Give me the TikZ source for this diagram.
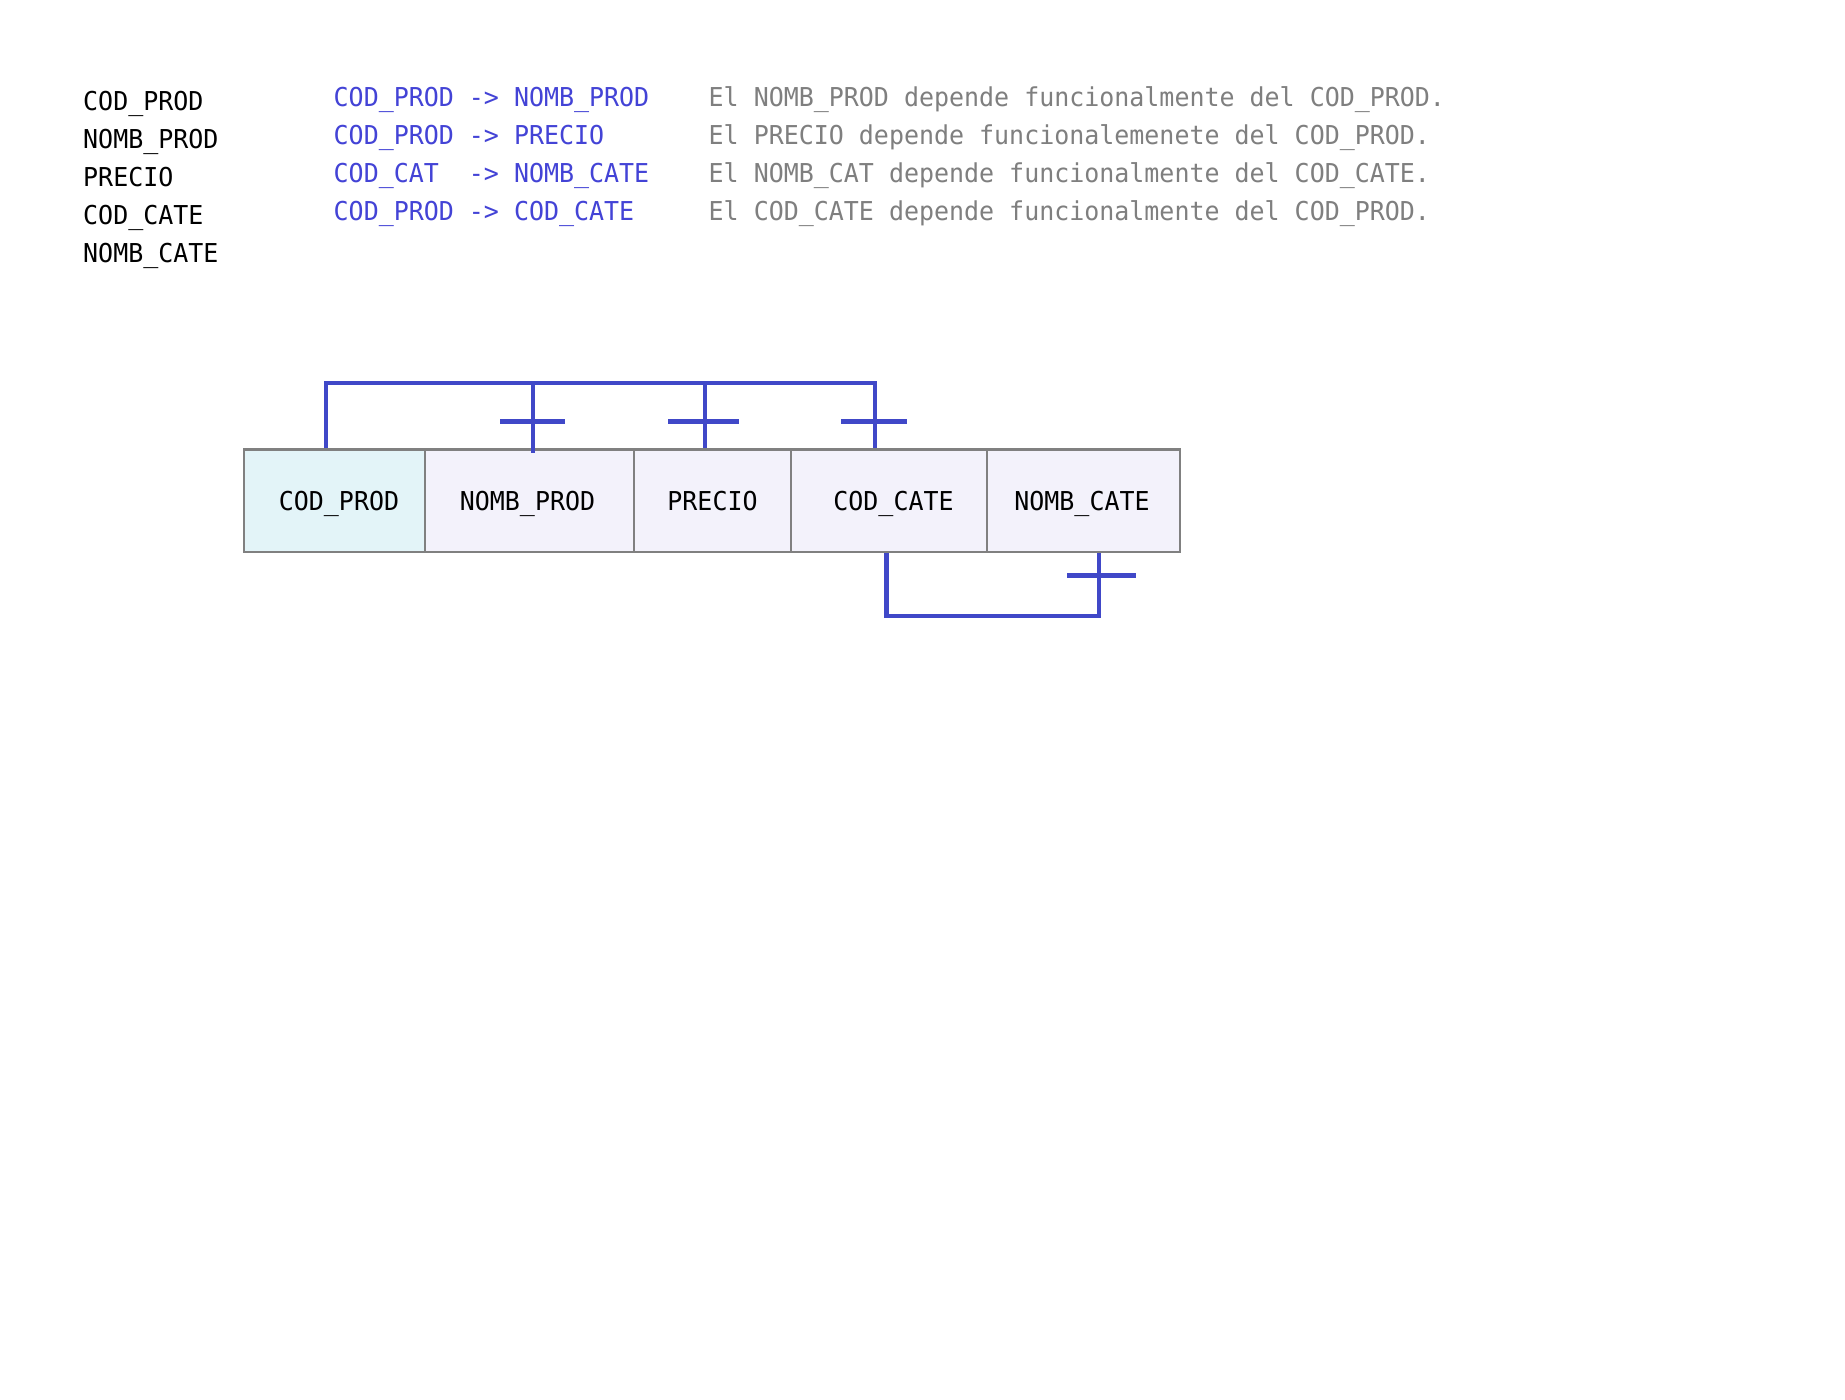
\documentclass[tikz,border=0pt]{standalone}
\usepackage{fontspec}
\newfontfamily\dmono[FakeStretch=0.96]{DejaVu Sans Mono}
\usetikzlibrary{calc}
\definecolor{fdblue}{HTML}{4048C8}
\definecolor{txtblue}{HTML}{4343D6}
\definecolor{txtgray}{HTML}{7F7F7F}
\definecolor{cellgray}{HTML}{808080}
\definecolor{keyfill}{HTML}{E3F4F8}
\definecolor{attrfill}{HTML}{F3F2FB}
\begin{document}
\begin{tikzpicture}[x=1pt,y=-1pt,
  every node/.style={font=\dmono\fontsize{26}{30}\selectfont, inner sep=0pt},
  lst/.style={anchor=base west, text=black},
  dep/.style={anchor=base west, text=txtblue},
  desc/.style={anchor=base west, text=txtgray},
  cell/.style={draw=cellgray, line width=2.5pt, minimum height=102.5pt, fill=attrfill, text=black,
               text height=19pt, text depth=0pt},
  keycell/.style={cell, fill=keyfill},
  fd/.style={draw=fdblue, line width=4.5pt}]
\fill[white] (0,0) rectangle (1845,1400);
\useasboundingbox (0,0) rectangle (1845,1400);

% attribute list
\node[lst] (l1) at (83,110.6) {COD\_PROD};
\node[lst] (l2) at (83,148.6) {NOMB\_PROD};
\node[lst] (l3) at (83,186.6) {PRECIO};
\node[lst] (l4) at (83,224.6) {COD\_CATE};
\node[lst] (l5) at (83,262.6) {NOMB\_CATE};

% dependencies
\node[dep] (d1) at (333.5,106) {COD\_PROD -> NOMB\_PROD};
\node[dep] (d2) at (333.5,144) {COD\_PROD -> PRECIO};
\node[dep] (d3) at (333.5,182) {COD\_CAT\ \ -> NOMB\_CATE};
\node[dep] (d4) at (333.5,220) {COD\_PROD -> COD\_CATE};

% descriptions
\node[desc] (e1) at (708.5,106) {El NOMB\_PROD depende funcionalmente del COD\_PROD.};
\node[desc] (e2) at (708.5,144) {El PRECIO depende funcionalemenete del COD\_PROD.};
\node[desc] (e3) at (708.5,182) {El NOMB\_CAT depende funcionalmente del COD\_CATE.};
\node[desc] (e4) at (708.5,220) {El COD\_CATE depende funcionalmente del COD\_PROD.};

% table
\node[keycell, minimum width=181pt] (c1) at (334.5,500.75) {\hspace*{9pt}COD\_PROD};
\node[cell, minimum width=209pt] (c2) at (529.5,500.75) {NOMB\_PROD\hspace*{4pt}};
\node[cell, minimum width=157pt] (c3) at (712.5,500.75) {PRECIO};
\node[cell, minimum width=196pt] (c4) at (889,500.75) {\hspace*{9pt}COD\_CATE};
\node[cell, minimum width=193pt] (c5) at (1083.5,500.75) {NOMB\_CATE\hspace*{3pt}};

% top dependency bracket
\coordinate (bar) at (0,383);
\coordinate (tk) at (0,421.5);
\draw[fd] ([xshift=-8.5pt]c1.north) -- ([xshift=-8.5pt]c1.north |- bar)
          -- ([xshift=-14pt]c4.north |- bar) -- ([xshift=-14pt]c4.north);
\draw[fd] ([xshift=3.5pt]c2.north |- bar) -- ([xshift=3.5pt,yshift=-5pt]c2.north);
\draw[fd] ([xshift=-7.5pt]c3.north |- bar) -- ([xshift=-7.5pt]c3.north);
\coordinate (t2) at ([xshift=3.5pt]c2.north |- tk);
\coordinate (t3) at ([xshift=-7.5pt]c3.north |- tk);
\coordinate (t4) at ([xshift=-14pt]c4.north |- tk);
\draw[fd] ([xshift=-33pt]t2) -- ([xshift=32pt]t2);
\draw[fd] ([xshift=-37pt]t3) -- ([xshift=34pt]t3);
\draw[fd] ([xshift=-34pt]t4) -- ([xshift=32pt]t4);

% bottom dependency bracket
\coordinate (bbar) at (0,616);
\coordinate (btk) at (0,575.5);
\draw[fd] ([xshift=-2.5pt]c4.south) -- ([xshift=-2.5pt]c4.south |- bbar)
          -- ([xshift=15.5pt]c5.south |- bbar) -- ([xshift=15.5pt]c5.south);
\coordinate (t5) at ([xshift=15.5pt]c5.south |- btk);
\draw[fd] ([xshift=-32pt]t5) -- ([xshift=37pt]t5);
\end{tikzpicture}
\end{document}
